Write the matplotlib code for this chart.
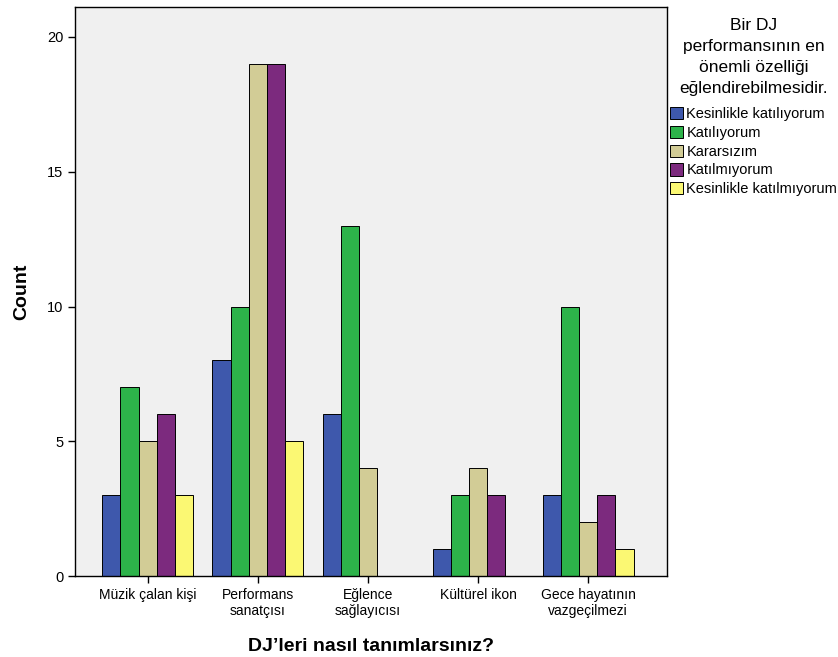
import numpy as np
import matplotlib.pyplot as plt

plt.rcParams['font.family'] = ['Liberation Sans', 'DejaVu Sans']

categories = ["Müzik çalan kişi", "Performans\nsanatçısı", "Eğlence\nsağlayıcısı",
              "Kültürel ikon", "Gece hayatının\nvazgeçilmezi"]
series = ["Kesinlikle katılıyorum", "Katılıyorum", "Kararsızım",
          "Katılmıyorum", "Kesinlikle katılmıyorum"]
colors = ["#3e58ac", "#2db34a", "#d2cc96", "#7c2a7e", "#fbf873"]

kesinlikle_katiliyorum = [3, 8, 6, 1, 3]
katiliyorum = [7, 10, 13, 3, 10]
kararsizim = [5, 19, 4, 4, 2]
katilmiyorum = [6, 19, 0, 3, 3]
kesinlikle_katilmiyorum = [3, 5, 0, 0, 1]
values = [kesinlikle_katiliyorum, katiliyorum, kararsizim, katilmiyorum, kesinlikle_katilmiyorum]

fig = plt.figure(figsize=(8.38, 6.57), dpi=100)
ax = fig.add_axes([0.0895, 0.123, 0.707, 0.866])
ax.set_facecolor("#f0f0f0")

x = np.arange(len(categories))
w = 0.165
for i, (name, vals) in enumerate(zip(series, values)):
    ax.bar(x + (i - 2) * w, vals, w, color=colors[i], edgecolor="black",
           linewidth=0.7, label=name)

ax.set_xlim(-0.66, 4.72)
ax.set_ylim(0, 21.1)
ax.set_yticks([0, 5, 10, 15, 20])
ax.set_xticks(x)
ax.set_xticklabels(categories, fontsize=10)
ax.tick_params(axis="y", labelsize=10.5)
ax.tick_params(length=5, width=1)
for s in ax.spines.values():
    s.set_linewidth(1)
ax.set_ylabel("Count", fontsize=14, fontweight="bold", labelpad=12)
ax.set_xlabel("DJ’leri nasıl tanımlarsınız?", fontsize=14, fontweight="bold", labelpad=14)

leg = ax.legend(title="Bir DJ\nperformansının en\nönemli özelliği\neğlendirebilmesidir.",
                loc="upper left", bbox_to_anchor=(0.995, 0.992), frameon=False,
                fontsize=10.5, title_fontsize=12.5, handlelength=0.9, handleheight=0.9,
                handletextpad=0.2, labelspacing=0.33, borderaxespad=0)
leg._legend_box.align = "center"
leg._legend_box.sep = 8
plt.setp(leg.get_title(), multialignment="center", linespacing=1.5)

plt.savefig("out.png", dpi=100)
